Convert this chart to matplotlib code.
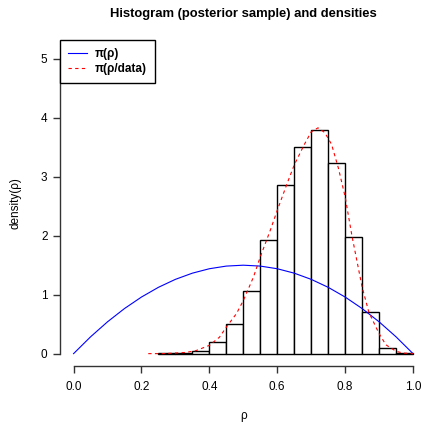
import numpy as np
import matplotlib
matplotlib.use('Agg')
import matplotlib.pyplot as plt

plt.rcParams['font.family'] = ['Liberation Sans', 'DejaVu Sans']

# histogram of the posterior sample (bin edges and density heights)
bin_edges = [0.25, 0.30, 0.35, 0.40, 0.45, 0.50, 0.55, 0.60, 0.65, 0.70,
             0.75, 0.80, 0.85, 0.90, 0.95, 1.00]
bin_heights = [0.01, 0.01, 0.05, 0.19, 0.50, 1.06, 1.93, 2.86, 3.50, 3.80,
               3.23, 1.98, 0.71, 0.09, 0.01]

# prior density pi(rho)
prior_x = [0.0, 0.05, 0.1, 0.15, 0.2, 0.25, 0.3, 0.35, 0.4, 0.45, 0.5,
           0.55, 0.6, 0.65, 0.7, 0.75, 0.8, 0.85, 0.9, 0.95, 1.0]
prior_y = [0.0, 0.285, 0.54, 0.765, 0.96, 1.125, 1.26, 1.365, 1.44, 1.485, 1.5,
           1.485, 1.44, 1.365, 1.26, 1.125, 0.96, 0.765, 0.54, 0.285, 0.0]

# posterior density pi(rho/data)
post_x = [0.22, 0.26, 0.30, 0.33, 0.36, 0.40, 0.43, 0.45, 0.48, 0.50, 0.53, 0.55,
          0.58, 0.60, 0.63, 0.65, 0.68, 0.70, 0.72, 0.74, 0.76, 0.78, 0.80,
          0.82, 0.85, 0.87, 0.90, 0.92, 0.95, 0.97, 1.00]
post_y = [0.0, 0.0, 0.01, 0.02, 0.05, 0.14, 0.28, 0.45, 0.68, 0.9, 1.3, 1.64,
          2.1, 2.43, 2.9, 3.2, 3.55, 3.76, 3.83, 3.75, 3.55, 3.15, 2.66,
          2.0, 1.13, 0.7, 0.34, 0.15, 0.04, 0.01, 0.0]

fig = plt.figure(figsize=(4.22, 4.22), dpi=100)
ax = fig.add_axes([60 / 422, (422 - 365.7) / 422, 366.6 / 422, 325.7 / 422])

widths = np.diff(bin_edges)
ax.bar(bin_edges[:-1], bin_heights, width=widths, align='edge',
       facecolor='white', edgecolor='black', linewidth=1.0)
ax.plot(prior_x, prior_y, color='blue', linewidth=0.8)
ax.plot(post_x, post_y, color='red', linestyle=(0, (3, 3)), linewidth=0.8)

ax.set_xlim(-0.04, 1.04)
ax.set_ylim(-0.2046, 5.3196)

for s in ['top', 'right']:
    ax.spines[s].set_visible(False)
for s in ['bottom', 'left']:
    ax.spines[s].set_linewidth(1.0)
    ax.spines[s].set_color('#333333')
ax.spines['bottom'].set_bounds(0, 1)
ax.spines['left'].set_bounds(0, 5)
ax.set_xticks([0, 0.2, 0.4, 0.6, 0.8, 1.0])
ax.set_xticklabels(['0.0', '0.2', '0.4', '0.6', '0.8', '1.0'])
ax.set_yticks([0, 1, 2, 3, 4, 5])
ax.tick_params(length=5, labelsize=8.5, width=1.0, color='#333333')
ax.tick_params(axis='x', pad=6)
ax.tick_params(axis='y', pad=4)

ax.set_xlabel('ρ', fontsize=8.5, labelpad=12)
ax.set_ylabel('density(ρ)', fontsize=8.5, labelpad=14)
fig.text(243 / 422, 1 - 14 / 422, 'Histogram (posterior sample) and densities',
         ha='center', va='center', fontsize=9.4, fontweight='bold')

leg = ax.legend(['π(ρ)', 'π(ρ/data)'], loc='upper left', fancybox=False,
                edgecolor='black', framealpha=1, borderaxespad=0,
                prop={'size': 8.5, 'weight': 'bold'}, handlelength=1.6,
                handletextpad=0.65, borderpad=0.7, labelspacing=0.25)
leg.get_frame().set_linewidth(1.0)

fig.savefig('out.png', dpi=100)
